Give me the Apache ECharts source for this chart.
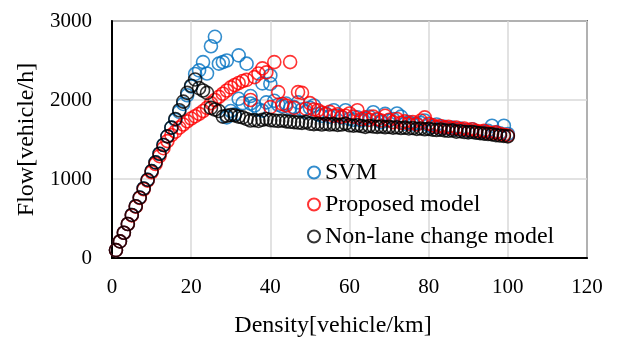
<!DOCTYPE html>
<html>
<head>
<meta charset="utf-8">
<script src="https://cdn.jsdelivr.net/npm/echarts@6/dist/echarts.min.js"></script>
<style>
  html, body { margin: 0; padding: 0; background: #fff; }
  #chart { width: 620px; height: 338px; }
</style>
</head>
<body>
<div id="chart"></div>
<script>
// Flow-density scatter, values

const density = [
  1, 2, 3, 4, 5, 6, 7, 8, 9, 10,
  11, 12, 13, 14, 15, 16, 17, 18, 19, 20,
  21, 22, 23, 24, 25, 26, 27, 28, 29, 30,
  31, 32, 33, 34, 35, 36, 37, 38, 39, 40,
  41, 42, 43, 44, 45, 46, 47, 48, 49, 50,
  51, 52, 53, 54, 55, 56, 57, 58, 59, 60,
  61, 62, 63, 64, 65, 66, 67, 68, 69, 70,
  71, 72, 73, 74, 75, 76, 77, 78, 79, 80,
  81, 82, 83, 84, 85, 86, 87, 88, 89, 90,
  91, 92, 93, 94, 95, 96, 97, 98, 99, 100
];

// SVM has a few densities with two readings
const svmDensity = [
  1, 2, 3, 4, 5, 6, 7, 8, 9, 10,
  11, 12, 13, 14, 15, 16, 17, 18, 19, 20,
  21, 22, 23, 24, 25, 26, 27, 28, 29, 29,
  30, 31, 32, 32, 33, 34, 35, 35, 36, 37,
  38, 38, 39, 40, 40, 41, 42, 43, 44, 45,
  46, 47, 48, 49, 50, 51, 52, 53, 54, 55,
  56, 57, 58, 59, 60, 61, 62, 63, 64, 65,
  66, 67, 68, 69, 70, 71, 72, 73, 74, 75,
  76, 77, 78, 79, 80, 81, 82, 83, 84, 85,
  86, 87, 88, 89, 90, 91, 92, 93, 94, 95,
  96, 97, 98, 99, 100
];
const svmFlow = [
  100, 210, 320, 430, 545, 655, 765, 880, 990, 1100,
  1210, 1320, 1430, 1540, 1650, 1750, 1850, 1950, 2060, 2170,
  2330, 2375, 2480, 2335, 2680, 2800, 2460, 2480, 2500, 1780,
  1860, 1820, 2565, 2015, 1960, 2460, 1955, 2050, 1930, 1880,
  2210, 1865, 1970, 2310, 2205, 1990, 1940, 1920, 1955, 1900,
  1910, 1970, 1880, 1850, 1900, 1930, 1820, 1800, 1830, 1790,
  1870, 1800, 1780, 1870, 1760, 1750, 1780, 1740, 1760, 1790,
  1845, 1750, 1720, 1825, 1740, 1760, 1830, 1790, 1700, 1720,
  1690, 1700, 1710, 1740, 1680, 1660, 1690, 1650, 1660, 1640,
  1650, 1630, 1640, 1620, 1610, 1630, 1600, 1590, 1600, 1610,
  1675, 1590, 1580, 1675, 1570
];

const proposedFlow = [
  100, 210, 320, 430, 540, 650, 760, 870, 980, 1085,
  1190, 1290, 1390, 1480, 1555, 1600, 1650, 1690, 1730, 1765,
  1795, 1825, 1860, 1900, 1960, 2000, 2040, 2080, 2120, 2160,
  2190, 2215, 2240, 2255, 2000, 2290, 2335, 2400, 2350, 1910,
  2480, 2100, 1950, 1930, 2480, 1900, 2100, 2090, 1890, 1960,
  1880, 1870, 1840, 1820, 1850, 1800, 1820, 1790, 1800, 1830,
  1790, 1870, 1760, 1780, 1750, 1790, 1760, 1740, 1800, 1750,
  1720, 1760, 1710, 1730, 1700, 1720, 1690, 1740, 1780, 1700,
  1680, 1660, 1670, 1650, 1660, 1640, 1650, 1630, 1640, 1620,
  1630, 1610, 1600, 1610, 1590, 1580, 1590, 1570, 1560, 1550
];

const nonLaneFlow = [
  100, 210, 320, 430, 545, 655, 765, 880, 990, 1100,
  1210, 1320, 1430, 1540, 1650, 1760, 1870, 1980, 2090, 2180,
  2260, 2150, 2120, 2090, 1900, 1880, 1860, 1790, 1800, 1810,
  1805, 1790, 1780, 1760, 1740, 1745, 1735, 1750, 1760, 1745,
  1740, 1735, 1740, 1730, 1725, 1720, 1715, 1710, 1720, 1700,
  1695, 1700, 1690, 1700, 1690, 1695, 1685, 1690, 1700, 1680,
  1675, 1680, 1670, 1660, 1670, 1665, 1660, 1665, 1655, 1660,
  1650, 1655, 1645, 1650, 1640, 1645, 1635, 1640, 1630, 1635,
  1625, 1620, 1625, 1615, 1610, 1615, 1600, 1605, 1595, 1590,
  1595, 1585, 1580, 1575, 1570, 1565, 1555, 1550, 1545, 1540
];

const seriesNames = ['SVM', 'Proposed model', 'Non-lane change model'];
const seriesColors = ['#0070c0', '#ff0000', '#000000'];

const FONT = '"Liberation Serif", "Times New Roman", serif';

function pairs(xs, ys) {
  return xs.map((x, i) => [x, ys[i]]);
}

const seriesData = [
  pairs(svmDensity, svmFlow),
  pairs(density, proposedFlow),
  pairs(density, nonLaneFlow)
];

const chart = echarts.init(document.getElementById('chart'), null, { renderer: 'canvas' });

chart.setOption({
  animation: false,
  backgroundColor: '#fff',
  textStyle: { fontFamily: FONT, color: '#000' },
  grid: {
    left: 112,
    right: 33,
    top: 21,
    bottom: 80,
    outerBoundsMode: 'none',
    show: true,
    borderColor: '#000',
    borderWidth: 1.5
  },
  legend: {
    orient: 'vertical',
    left: 302,
    top: 155,
    itemGap: 7,
    itemWidth: 12,
    itemHeight: 12,
    textStyle: { fontFamily: FONT, fontSize: 24, color: '#000', lineHeight: 25 },
    data: seriesNames
  },
  xAxis: {
    type: 'value',
    min: 0,
    max: 120,
    interval: 20,
    name: 'Density[vehicle/km]',
    nameLocation: 'middle',
    nameGap: 56,
    nameTextStyle: { fontFamily: FONT, fontSize: 24, color: '#000', padding: [0, 33, 0, 0] },
    axisLine: { lineStyle: { color: '#000', width: 2 } },
    axisTick: { show: false },
    axisLabel: { fontFamily: FONT, fontSize: 21, color: '#000', margin: 19 },
    splitLine: { lineStyle: { color: '#d9d9d9', width: 1.5 } }
  },
  yAxis: {
    type: 'value',
    min: 0,
    max: 3000,
    interval: 1000,
    name: 'Flow[vehicle/h]',
    nameLocation: 'middle',
    nameGap: 72,
    nameTextStyle: { fontFamily: FONT, fontSize: 24, color: '#000' },
    axisLine: { lineStyle: { color: '#000', width: 2 } },
    axisTick: { show: false },
    axisLabel: {
      fontFamily: FONT,
      fontSize: 21,
      color: '#000',
      margin: 20,
      formatter: (v) => String(v)
    },
    splitLine: { lineStyle: { color: '#d9d9d9', width: 1.5 } }
  },
  series: seriesNames.map((name, i) => ({
    name: name,
    type: 'scatter',
    symbol: 'circle',
    symbolSize: 13,
    data: seriesData[i],
    itemStyle: {
      color: 'transparent',
      borderColor: seriesColors[i],
      borderWidth: 1.6
    },
    emphasis: { disabled: true },
    z: 2 + i
  }))
});
</script>
</body>
</html>
